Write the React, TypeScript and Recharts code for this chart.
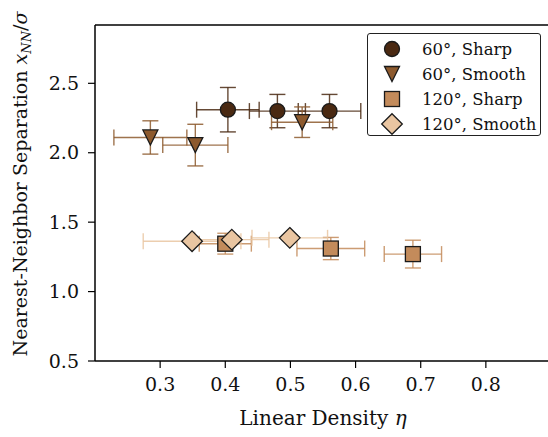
import { ScatterChart, Scatter, XAxis, YAxis, ErrorBar, ReferenceLine, Legend } from 'recharts';

// eta (linear density), x_NN/sigma, and their uncertainties per series
const sharp60X = [0.404, 0.48, 0.56];
const sharp60Y = [2.31, 2.3, 2.3];
const sharp60Ex = [0.048, 0.043, 0.048];
const sharp60Ey = [0.16, 0.12, 0.12];

const smooth60X = [0.285, 0.354, 0.518];
const smooth60Y = [2.11, 2.055, 2.22];
const smooth60Ex = [0.056, 0.05, 0.047];
const smooth60Ey = [0.12, 0.15, 0.11];

const sharp120X = [0.4, 0.562, 0.688];
const sharp120Y = [1.345, 1.31, 1.27];
const sharp120Ex = [0.04, 0.052, 0.044];
const sharp120Ey = [0.075, 0.08, 0.1];

const smooth120X = [0.349, 0.41, 0.499];
const smooth120Y = [1.363, 1.374, 1.387];
const smooth120Ex = [0.075, 0.057, 0.058];
const smooth120Ey = [0.02, 0.03, 0.02];

const xTicks = [0.3, 0.4, 0.5, 0.6, 0.7, 0.8];
const yTicks = [0.5, 1.0, 1.5, 2.0, 2.5];
const X_MIN = 0.2;
const X_MAX = 0.9;
const Y_MIN = 0.5;
const Y_MAX = 2.92;

const C_SHARP60 = '#4a2912';
const C_SMOOTH60 = '#8d5a2e';
const C_SHARP120 = '#c38b5b';
const C_SMOOTH120 = '#e9c5a1';
const EDGE = '#1a1a1a';
const FONT = '"DejaVu Serif", serif';

const rows = (xs: number[], ys: number[], exs: number[], eys: number[]) =>
  xs.map((x, i) => ({ x, y: ys[i], ex: exs[i], ey: eys[i] }));

const series = [
  { name: '60°, Sharp', color: C_SHARP60, marker: 'circle', data: rows(sharp60X, sharp60Y, sharp60Ex, sharp60Ey) },
  { name: '60°, Smooth', color: C_SMOOTH60, marker: 'tridown', data: rows(smooth60X, smooth60Y, smooth60Ex, smooth60Ey) },
  { name: '120°, Sharp', color: C_SHARP120, marker: 'square', data: rows(sharp120X, sharp120Y, sharp120Ex, sharp120Ey) },
  { name: '120°, Smooth', color: C_SMOOTH120, marker: 'diamond', data: rows(smooth120X, smooth120Y, smooth120Ex, smooth120Ey) },
];

function Marker({ kind, cx, cy, fill }: { kind: string; cx: number; cy: number; fill: string }) {
  if (cx == null || cy == null) return null;
  const sw = 1.3;
  if (kind === 'circle') return <circle cx={cx} cy={cy} r={7.5} fill={fill} stroke={EDGE} strokeWidth={sw} />;
  if (kind === 'tridown') {
    const h = 7.5;
    return <path d={`M${cx - h},${cy - h}L${cx + h},${cy - h}L${cx},${cy + h}Z`} fill={fill} stroke={EDGE} strokeWidth={sw} strokeLinejoin="miter" />;
  }
  if (kind === 'square') {
    const h = 7.5;
    return <rect x={cx - h} y={cy - h} width={2 * h} height={2 * h} fill={fill} stroke={EDGE} strokeWidth={sw} />;
  }
  const d = 10.3;
  return <path d={`M${cx},${cy - d}L${cx + d},${cy}L${cx},${cy + d}L${cx - d},${cy}Z`} fill={fill} stroke={EDGE} strokeWidth={sw} />;
}

function LegendBox() {
  return (
    <div
      style={{
        width: 174,
        height: 103,
        border: '1px solid #222',
        borderRadius: 3,
        background: 'rgba(255,255,255,0.9)',
        boxSizing: 'border-box',
      }}
    >
      <svg width={172} height={101}>
        {series.map((s, i) => {
          const y = 15 + i * 25;
          return (
            <g key={s.name}>
              <Marker kind={s.marker} cx={24} cy={y} fill={s.color} />
              <text x={54} y={y + 6} fontFamily={FONT} fontSize={16.5} fill="#111">
                {s.name}
              </text>
            </g>
          );
        })}
      </svg>
    </div>
  );
}

const tickStyle = { fontFamily: FONT, fontSize: 19, fill: '#111' };

export default function App() {
  return (
    <div style={{ position: 'fixed', left: 0, top: 0, width: 548, height: 437, overflow: 'hidden', background: '#fff' }}>
      <ScatterChart width={560} height={437} margin={{ top: 25, right: 9, bottom: 0, left: 0 }}>
        <XAxis
          type="number"
          dataKey="x"
          domain={[X_MIN, X_MAX]}
          ticks={xTicks}
          allowDataOverflow
          height={76}
          tickSize={7}
          tickMargin={10}
          tick={tickStyle}
          tickFormatter={(v: number) => v.toFixed(1)}
          axisLine={{ stroke: '#000', strokeWidth: 1.5 }}
          tickLine={{ stroke: '#000', strokeWidth: 1.2 }}
          label={{
            content: () => (
              <text x={323} y={425} textAnchor="middle" fontFamily={FONT} fontSize={20} fill="#111">
                Linear Density <tspan fontStyle="italic">η</tspan>
              </text>
            ),
          }}
        />
        <YAxis
          type="number"
          dataKey="y"
          domain={[Y_MIN, Y_MAX]}
          ticks={yTicks}
          allowDataOverflow
          width={95}
          tickSize={7}
          tickMargin={9}
          tick={tickStyle}
          tickFormatter={(v: number) => v.toFixed(1)}
          axisLine={{ stroke: '#000', strokeWidth: 1.5 }}
          tickLine={{ stroke: '#000', strokeWidth: 1.2 }}
          label={{
            content: () => (
              <text
                x={0}
                y={0}
                transform="translate(27,184) rotate(-90)"
                textAnchor="middle"
                fontFamily={FONT}
                fontSize={19}
                fill="#111"
              >
                Nearest-Neighbor Separation <tspan fontStyle="italic">x</tspan>
                <tspan fontStyle="italic" fontSize={13} dy={4}>NN</tspan>
                <tspan dy={-4}>/</tspan>
                <tspan fontStyle="italic">σ</tspan>
              </text>
            ),
          }}
        />
        <ReferenceLine y={Y_MAX} stroke="#000" strokeWidth={1.5} ifOverflow="visible" />
        <ReferenceLine x={X_MAX} stroke="#000" strokeWidth={1.5} ifOverflow="visible" />
        {series.map((s) => (
          <Scatter
            key={s.name}
            name={s.name}
            data={s.data}
            fill={s.color}
            isAnimationActive={false}
            shape={(p: any) => <Marker kind={s.marker} cx={p.cx} cy={p.cy} fill={s.color} />}
          >
            <ErrorBar dataKey="ex" direction="x" width={8} stroke={s.color} strokeWidth={1.4} strokeOpacity={0.85} isAnimationActive={false} />
            <ErrorBar dataKey="ey" direction="y" width={8} stroke={s.color} strokeWidth={1.4} strokeOpacity={0.85} isAnimationActive={false} />
          </Scatter>
        ))}
        <Legend
          layout="vertical"
          align="center"
          verticalAlign="middle"
          wrapperStyle={{ left: 367, top: 33, width: 174, height: 103 }}
          content={() => <LegendBox />}
        />
      </ScatterChart>
    </div>
  );
}
